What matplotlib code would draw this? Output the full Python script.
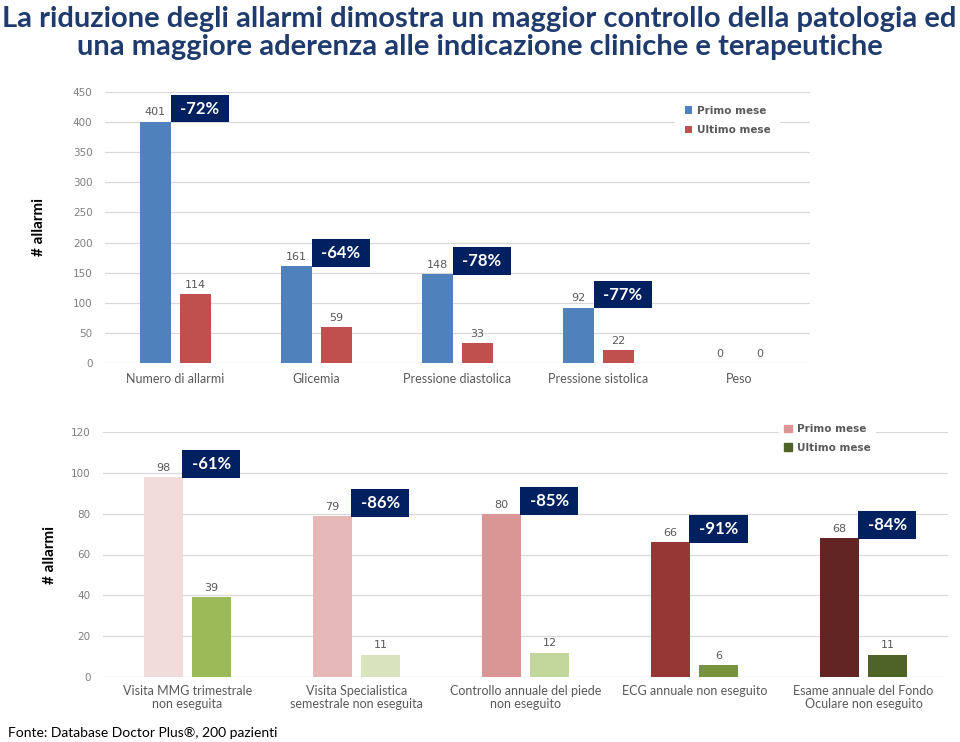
import matplotlib
import matplotlib.pyplot as plt
from matplotlib.patches import Patch

matplotlib.use('Agg')

# top chart data
top_cats = ['Numero di allarmi', 'Glicemia', 'Pressione diastolica',
            'Pressione sistolica', 'Peso']
top_primo = [401, 161, 148, 92, 0]
top_ultimo = [114, 59, 33, 22, 0]
top_pct = ['-72%', '-64%', '-78%', '-77%', None]

# bottom chart data
bot_cats = ['Visita MMG trimestrale\nnon eseguita',
            'Visita Specialistica\nsemestrale non eseguita',
            'Controllo annuale del piede\nnon eseguito',
            'ECG annuale non eseguito',
            'Esame annuale del Fondo\nOculare non eseguito']
bot_primo = [98, 79, 80, 66, 68]
bot_ultimo = [39, 11, 12, 6, 11]
bot_pct = ['-61%', '-86%', '-85%', '-91%', '-84%']

title_lines = ['La riduzione degli allarmi dimostra un maggior controllo della patologia ed',
               'una maggiore aderenza alle indicazione cliniche e terapeutiche']

BLUE = '#4F81BD'
RED = '#C0504D'
bot_primo_colors = ['#F2DCDB', '#E6B9B8', '#D99694', '#953735', '#632523']
bot_ultimo_colors = ['#9BBB59', '#D7E4BD', '#C3D69B', '#77933C', '#4F6228']
BOX = '#002060'
TITLE_C = '#1F3B6E'
GRID = '#D9D9D9'
TICK_C = '#7F7F7F'
LBL_C = '#595959'
CAL = 'Lato'

W = 0.225
OFF = 0.142

fig = plt.figure(figsize=(9.6, 7.42), dpi=100)
ax1 = fig.add_axes([105 / 960, 379 / 742, 705 / 960, 271 / 742])
ax2 = fig.add_axes([103 / 960, 65 / 742, 845 / 960, 245 / 742])


def style_axes(ax, ymax, step):
    ax.set_xlim(-0.5, 4.5)
    ax.set_ylim(0, ymax)
    ax.set_yticks(range(0, ymax + 1, step))
    ax.grid(axis='y', color=GRID, linewidth=0.9)
    ax.set_axisbelow(True)
    for s in ax.spines.values():
        s.set_visible(False)
    ax.tick_params(axis='both', length=0)
    ax.tick_params(axis='y', labelsize=7.5, labelcolor=TICK_C, pad=9)
    for t in ax.get_yticklabels():
        t.set_family('DejaVu Sans')


def pct_box(ax, x, y, txt):
    ax.annotate(' ' + txt + ' ', xy=(x, y), xytext=(3.6, 3.6), textcoords='offset points',
                ha='left', va='bottom', fontsize=12, fontweight='bold', color='white',
                family=CAL,
                bbox=dict(boxstyle='square,pad=0.35', facecolor=BOX, edgecolor='none'))


def val_labels(ax, xs, vals):
    for x, v in zip(xs, vals):
        ax.annotate(str(v), xy=(x, v), xytext=(0, 3), textcoords='offset points',
                    ha='center', va='bottom', fontsize=8, color=LBL_C, family='DejaVu Sans')


# --- top chart
xs = list(range(len(top_cats)))
b1 = ax1.bar([x - OFF for x in xs], top_primo, W, color=BLUE, label='Primo mese')
b2 = ax1.bar([x + OFF for x in xs], top_ultimo, W, color=RED, label='Ultimo mese')
style_axes(ax1, 450, 50)
ax1.set_xticks(xs)
ax1.set_xticklabels(top_cats, fontsize=9, color=LBL_C, family=CAL)
ax1.tick_params(axis='x', pad=7)
val_labels(ax1, [x - OFF for x in xs], top_primo)
val_labels(ax1, [x + OFF for x in xs], top_ultimo)
for x, v, p in zip(xs, top_primo, top_pct):
    if p:
        pct_box(ax1, x - OFF + W / 2, v, p)
leg1 = ax1.legend(handles=[b1, b2], loc='upper left', bbox_to_anchor=(670 / 960, 651 / 742),
                  bbox_transform=fig.transFigure, frameon=True, facecolor='white',
                  edgecolor='none', framealpha=1, fancybox=False, handlelength=0.7,
                  handleheight=0.7, handletextpad=0.5, labelspacing=0.95, borderpad=0.9,
                  prop=dict(family='DejaVu Sans', weight='bold', size=7.5))
for t in leg1.get_texts():
    t.set_color(LBL_C)
ax1.set_ylabel('# allarmi', fontsize=11, fontweight='bold', family=CAL, labelpad=19)

# --- bottom chart
ax2.bar([x - OFF for x in xs], bot_primo, W, color=bot_primo_colors)
ax2.bar([x + OFF for x in xs], bot_ultimo, W, color=bot_ultimo_colors)
style_axes(ax2, 120, 20)
ax2.set_xticks(xs)
ax2.set_xticklabels(bot_cats, fontsize=9, color=LBL_C, family=CAL, linespacing=1.1)
ax2.tick_params(axis='x', pad=6)
val_labels(ax2, [x - OFF for x in xs], bot_primo)
val_labels(ax2, [x + OFF for x in xs], bot_ultimo)
for x, v, p in zip(xs, bot_primo, bot_pct):
    pct_box(ax2, x - OFF + W / 2, v, p)
handles = [Patch(color='#D99694', label='Primo mese'), Patch(color='#4F6228', label='Ultimo mese')]
leg2 = ax2.legend(handles=handles, loc='upper left', bbox_to_anchor=(774 / 960, 328 / 742),
                  bbox_transform=fig.transFigure, frameon=True, facecolor='white',
                  edgecolor='none', framealpha=1, fancybox=False, handlelength=0.7,
                  handleheight=0.7, handletextpad=0.5, labelspacing=0.8, borderpad=0.5,
                  prop=dict(family='DejaVu Sans', weight='bold', size=7.5))
for t in leg2.get_texts():
    t.set_color(LBL_C)
ax2.set_ylabel('# allarmi', fontsize=11, fontweight='bold', family=CAL, labelpad=10)

# --- title and source
t1 = fig.text(0.499, 1 - 19 / 742, title_lines[0], ha='center', va='center', fontsize=20,
              fontweight='bold', color=TITLE_C, family=CAL)
t2 = fig.text(0.5, 1 - 47 / 742, title_lines[1], ha='center', va='center', fontsize=20,
              fontweight='bold', color=TITLE_C, family=CAL)
# shrink the title so the first line spans the figure width like the original
r = fig.canvas.get_renderer()
w1 = t1.get_window_extent(r).width
fs = 20 * 952 / w1
t1.set_fontsize(fs)
t2.set_fontsize(fs)

fig.text(8 / 960, 1 - 733 / 742, 'Fonte: Database Doctor Plus®, 200 pazienti',
         ha='left', va='center', fontsize=10, color='black', family=CAL)

plt.savefig('out.png', dpi=100)
